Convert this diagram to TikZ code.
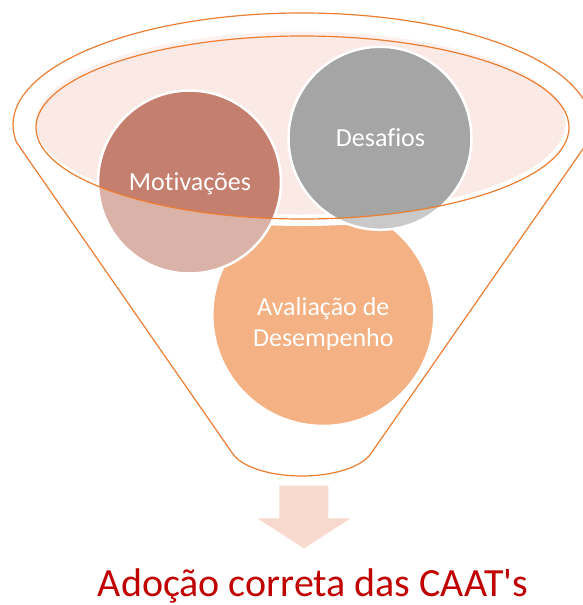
\documentclass[tikz,border=0pt]{standalone}
\usepackage{fontspec}
\setmainfont{Carlito}[Ligatures={NoCommon}]
\definecolor{accOrange}{HTML}{ED7D31}
\definecolor{paleFill}{HTML}{FBE9E5}
\definecolor{motivCol}{HTML}{C47F6F}
\definecolor{desafCol}{HTML}{A5A5A5}
\definecolor{arrowCol}{HTML}{F8D9CE}
\definecolor{titleRed}{HTML}{C00000}
\begin{document}
\begin{tikzpicture}[x=1pt,y=-1pt,
  bubble/.style={circle, draw=white, line width=2.5pt, inner sep=0pt},
  bubbletext/.style={text=white, font=\fontsize{26}{31}\selectfont, align=center, inner sep=0pt},
  funnelshape/.style={insert path={(16.6,142.5) arc[start angle=171,end angle=369,x radius=289,y radius=112]
      -- (371.3,453) arc[start angle=15,end angle=165,x radius=72,y radius=31] -- cycle}},
  rimline/.style={draw=accOrange, line width=1.2pt}]
\useasboundingbox (0,0) rectangle (582,605);
% bottom bubble
\node[bubble, fill=accOrange, minimum size=222pt] (aval) at (323.3,315) {};
% rim opening
\fill[white] (302.5,129) ellipse [x radius=268, y radius=97];
\fill[paleFill] (300.5,123) ellipse [x radius=265, y radius=91.5];
% upper bubbles
\node[bubble, fill=motivCol, minimum size=183pt] (motiv) at (189.5,182) {};
\node[bubble, fill=desafCol, minimum size=183pt] (desaf) at (380,138.3) {};
% translucent funnel body
\fill[white, fill opacity=0.4, even odd rule] [funnelshape] (302.5,127.5) ellipse [x radius=266.5, y radius=91.5];
% outlines
\path[rimline] [funnelshape];
\path[rimline] (302.5,127.5) ellipse [x radius=266.5, y radius=91.5];
% texts
\node[bubbletext, anchor=base] (motivtext) at (190,190) {Motivações};
\node[bubbletext, anchor=base] (desaftext) at (380.5,146) {Desafios};
\node[bubbletext] (avaltext) at (323.3,324) {Avaliação de\\Desempenho};
% arrow
\fill[arrowCol] (279.3,485.7) -- (328.3,485.7) -- (328.3,518.3) -- (350.7,518.3) -- (304,548.3) -- (257.3,518.3) -- (279.3,518.3) -- cycle;
% result
\node[text=titleRed, font=\fontsize{40}{48}\selectfont, anchor=base, inner sep=0pt] (result) at (313,596) {Adoção correta das CAAT\textquotesingle s};
\end{tikzpicture}
\end{document}
